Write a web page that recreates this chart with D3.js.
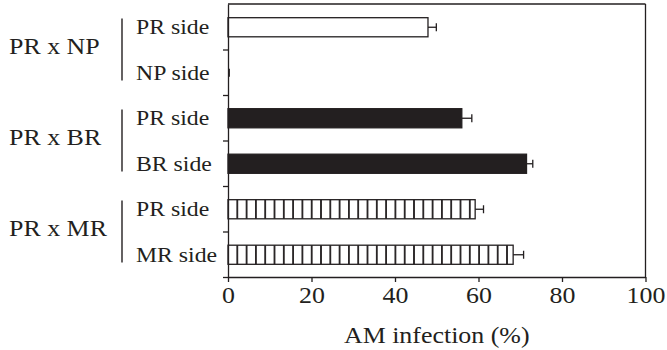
<!DOCTYPE html>
<html>
<head>
<meta charset="utf-8">
<script src="https://cdn.jsdelivr.net/npm/d3@7"></script>
<style>
  html, body { margin: 0; padding: 0; background: #fff; }
  svg { display: block; }
</style>
</head>
<body>
<svg id="chart" width="667" height="350"></svg>
<script>
// ---- data ----
const groups = ["PR x NP", "PR x BR", "PR x MR"];
const sides = ["PR side", "NP side", "PR side", "BR side", "PR side", "MR side"];
const rowGroup = [0, 0, 1, 1, 2, 2];
const values = [47.9, 0, 56.0, 71.5, 59.2, 68.3];
const errors = [2.0, 0.3, 2.4, 1.5, 2.0, 2.5];
const fillTypes = ["open", "open", "solid", "solid", "striped", "striped"];
const xTicks = [0, 20, 40, 60, 80, 100];
const xTitle = "AM infection (%)";

// ---- layout ----
const ink = "#231f20";
const FONT = "Liberation Serif";
const stretch = 1.08;
const L = 228, R = 645.5, T = 4, B = 277;
const svg = d3.select("#chart");

const defs = svg.append("defs");
const pat = defs.append("pattern")
  .attr("id", "stripes")
  .attr("patternUnits", "userSpaceOnUse")
  .attr("x", L - 4.65).attr("y", 0)
  .attr("width", 9.3).attr("height", 40);
pat.append("rect").attr("width", 9.3).attr("height", 40).attr("fill", "#fff");
pat.append("line").attr("x1", 4.65).attr("x2", 4.65).attr("y1", 0).attr("y2", 40)
  .attr("stroke", ink).attr("stroke-width", 1.8);

const x = d3.scaleLinear().domain([0, 100]).range([L, R]);
const rows = d3.range(sides.length);
const y = d3.scaleBand().domain(rows).range([T, B]).paddingInner(0).paddingOuter(0);
const yIdx = d3.scaleLinear().domain([0, sides.length]).range([T, B]);
const barH = y.bandwidth() * 0.42;

// frame top/right
svg.append("line").attr("x1", L).attr("x2", R).attr("y1", T).attr("y2", T)
  .attr("stroke", ink).attr("stroke-width", 1.3);
svg.append("line").attr("x1", R).attr("x2", R).attr("y1", T).attr("y2", B)
  .attr("stroke", ink).attr("stroke-width", 1.3);

// bars
const fillOf = t => t === "solid" ? ink : (t === "striped" ? "url(#stripes)" : "#fff");
svg.append("g").selectAll("rect").data(rows).join("rect")
  .attr("x", x(0))
  .attr("y", i => y(i) + y.bandwidth() / 2 - barH / 2 + 0.5)
  .attr("width", i => x(values[i]) - x(0))
  .attr("height", barH)
  .attr("fill", i => fillOf(fillTypes[i]))
  .attr("stroke", ink).attr("stroke-width", 1.3);

// error bars
const eg = svg.append("g").attr("stroke", ink).attr("stroke-width", 1.3);
rows.forEach(i => {
  const cy = y(i) + y.bandwidth() / 2 + 0.5;
  if (values[i] > 0) {
    eg.append("line").attr("x1", x(values[i])).attr("x2", x(values[i] + errors[i]))
      .attr("y1", cy).attr("y2", cy);
  }
  eg.append("line").attr("x1", x(values[i] + errors[i])).attr("x2", x(values[i] + errors[i]))
    .attr("y1", cy - 4).attr("y2", cy + 4);
});

// bottom axis
const xAxis = svg.append("g").attr("transform", `translate(0,${B})`)
  .call(d3.axisBottom(x).tickValues(xTicks).tickSize(5).tickSizeOuter(0).tickPadding(4));
xAxis.attr("font-family", FONT).attr("font-size", 24);
xAxis.select(".domain").attr("stroke", ink).attr("stroke-width", 1.3);
xAxis.selectAll(".tick line").attr("stroke", ink).attr("stroke-width", 1.3);
xAxis.selectAll(".tick text")
  .attr("font-size", 24).attr("font-family", FONT).attr("fill", ink)
  .attr("transform", `scale(${stretch},1)`);

// left axis (ticks at row boundaries)
const yAxis = svg.append("g").attr("transform", `translate(${L},0)`)
  .call(d3.axisLeft(yIdx).tickValues(d3.range(1, sides.length + 1)).tickSize(5).tickSizeOuter(0).tickFormat(""));
yAxis.select(".domain").attr("stroke", ink).attr("stroke-width", 1.3);
yAxis.selectAll(".tick line").attr("stroke", ink).attr("stroke-width", 1.3);

// text helper
function label(txt, tx, ty, size, anchor) {
  svg.append("text")
    .attr("transform", `translate(${tx},${ty}) scale(${stretch},1)`)
    .attr("font-family", FONT)
    .attr("font-size", size)
    .attr("fill", ink)
    .attr("text-anchor", anchor || "start")
    .text(txt);
}

// side labels
rows.forEach(i => {
  label(sides[i], 136, y(i) + y.bandwidth() / 2 + 7.5, 22);
});

// group labels + bracket lines
groups.forEach((g, gi) => {
  const idx = rows.filter(i => rowGroup[i] === gi);
  const cy = (y(idx[0]) + y(idx[idx.length - 1]) + y.bandwidth()) / 2;
  label(g, 9, cy + 4, 24);
  svg.append("line").attr("x1", 122).attr("x2", 122)
    .attr("y1", cy - 31).attr("y2", cy + 31)
    .attr("stroke", ink).attr("stroke-width", 1.4);
});

// axis title
label(xTitle, (L + R) / 2, 342.5, 24, "middle");
</script>
</body>
</html>
